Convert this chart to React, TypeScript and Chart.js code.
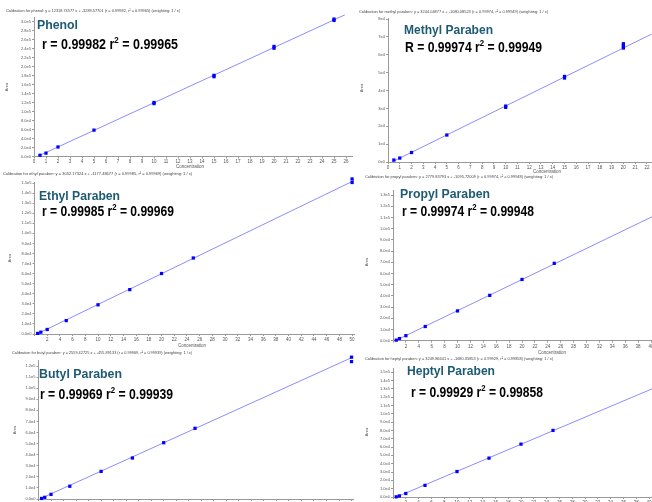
import { useEffect, useRef } from "react";
import { Chart, registerables } from "chart.js";
Chart.register(...registerables);

// ---------- data ----------
const phenolConc = [0.5, 1, 2, 5, 10, 10, 15, 15, 20, 20, 25, 25];
const phenolArea = [2800, 7500, 21200, 58800, 118000, 120500, 178000, 181000, 241500, 245500, 303500, 306500];
const phenolFitConc = [0.27, 25.9];
const phenolFitArea = [0, 315800];

const methylConc = [0.5, 1, 2, 5, 10, 10, 15, 15, 20, 20, 20];
const methylArea = [1100, 2200, 5300, 15100, 30600, 31300, 47000, 47900, 63800, 65000, 66200];
const methylFitConc = [0.33, 22.4];
const methylFitArea = [0, 71600];

const ethylConc = [0.5, 1, 2, 5, 10, 15, 20, 25, 50, 50];
const ethylArea = [600, 1800, 4500, 13300, 29000, 44100, 60100, 75500, 150500, 154000];
const ethylFitConc = [0.39, 50.3];
const ethylFitArea = [0, 152400];

const propylConc = [0.5, 1, 2, 5, 10, 15, 20, 25];
const propylArea = [400, 1800, 4400, 12600, 26500, 40400, 54600, 69000];
const propylFitConc = [0.39, 40.2];
const propylFitArea = [0, 110700];

const butylConc = [0.5, 1, 2, 5, 10, 15, 20, 25, 50, 50];
const butylArea = [500, 1500, 4200, 11500, 24900, 37000, 50800, 63800, 124000, 128000];
const butylFitConc = [0.18, 50.3];
const butylFitArea = [0, 128300];

const heptylConc = [0.5, 1, 2, 5, 10, 15, 20, 25];
const heptylArea = [200, 1300, 4200, 14000, 30600, 46700, 63500, 80000];
const heptylFitConc = [0.52, 40.5];
const heptylFitArea = [0, 130000];

// highest labelled tick on each axis, and the step between labels
const yTickTop = [300000, 80000, 150000, 130000, 120000, 150000];
const yTickStep = [20000, 10000, 10000, 10000, 10000, 10000];
const xTickTop = [26, 22, 50, 40, 50, 40];
const xTickStep = [1, 1, 2, 2, 2, 2];

const headers = [
  "Calibration for phenol: y = 12318.74577 x + -3289.57701 (r = 0.99982, r² = 0.99965) (weighting: 1 / x)",
  "Calibration for methyl paraben: y = 3244.04877 x + -1080.08523 (r = 0.99974, r² = 0.99949) (weighting: 1 / x)",
  "Calibration for ethyl paraben: y = 3052.17324 x + -1177.48677 (r = 0.99985, r² = 0.99969) (weighting: 1 / x)",
  "Calibration for propyl paraben: y = 2779.83793 x + -1095.72009 (r = 0.99974, r² = 0.99948) (weighting: 1 / x)",
  "Calibration for butyl paraben: y = 2559.42725 x + -455.89133 (r = 0.99969, r² = 0.99939) (weighting: 1 / x)",
  "Calibration for heptyl paraben: y = 3249.86641 x + -1680.35853 (r = 0.99929, r² = 0.99858) (weighting: 1 / x)",
];
const titles = ["Phenol", "Methyl Paraben", "Ethyl Paraben", "Propyl Paraben", "Butyl Paraben", "Heptyl Paraben"];
const rLabels = ["r = 0.99982 r", "R = 0.99974 r", "r = 0.99985 r", "r = 0.99974 r", "r = 0.99969 r", "r = 0.99929 r"];
const r2Labels = [" = 0.99965", " = 0.99949", " = 0.99969", " = 0.99948", " = 0.99939", " = 0.99858"];
const xAxisTitle = "Concentration";
const yAxisTitle = "Area";

// ---------- layout / style ----------
const FONT = "'Liberation Sans', Arial, Helvetica, sans-serif";
const TITLE_COLOR = "#1d5a73";
const POINT_COLOR = "#0000ff";
const LINE_COLOR = "#8c8cff";
const AXIS_COLOR = "#9a9a9a";
const TICK_COLOR = "#555";

const zip = (xs: number[], ys: number[]) => xs.map((x, i) => ({ x, y: ys[i] }));

type Layout = {
  box: { left: number; top: number; w: number; h: number };
  area: { l: number; t: number; r: number; b: number };
  xMax: number; hideZero: boolean;
  yMax: number; yDec: number;
  header: { x: number; y: number; w: number };
  title: { x: number; y: number; w: number };
  rline: { x: number; y: number; w: number };
  yt: { x: number; y: number };
  xt: { x: number; y: number };
};

const layouts: Layout[] = [
  { box: { left: 0, top: 0, w: 362, h: 176 }, area: { l: 34, t: 17.5, r: 352, b: 156.5 },
    xMax: 26.5, hideZero: false, yMax: 310000, yDec: 1,
    header: { x: 6, y: 11, w: 174 }, title: { x: 37, y: 25, w: 41 }, rline: { x: 42, y: 45, w: 136 },
    yt: { x: 7, y: 87 }, xt: { x: 190, y: 167 } },
  { box: { left: 355, top: 0, w: 307, h: 178 }, area: { l: 388, t: 18, r: 651.6, b: 162 },
    xMax: 22.4, hideZero: false, yMax: 80600, yDec: 0,
    header: { x: 359, y: 12, w: 189 }, title: { x: 404, y: 30, w: 89 }, rline: { x: 405, y: 48, w: 137 },
    yt: { x: 362, y: 88 }, xt: { x: 547, y: 172 } },
  { box: { left: 0, top: 170, w: 362, h: 180 }, area: { l: 34.5, t: 182, r: 354, b: 334 },
    xMax: 50.3, hideZero: true, yMax: 151000, yDec: 1,
    header: { x: 3, y: 174, w: 189 }, title: { x: 39, y: 196, w: 81 }, rline: { x: 42, y: 212, w: 132 },
    yt: { x: 10, y: 258 }, xt: { x: 192, y: 346 } },
  { box: { left: 355, top: 170, w: 307, h: 190 }, area: { l: 393, t: 190, r: 652.3, b: 340.6 },
    xMax: 40.2, hideZero: true, yMax: 134500, yDec: 1,
    header: { x: 365, y: 177, w: 188 }, title: { x: 400, y: 194, w: 90 }, rline: { x: 402, y: 212, w: 132 },
    yt: { x: 367, y: 262 }, xt: { x: 552, y: 353 } },
  { box: { left: 0, top: 349, w: 362, h: 175 }, area: { l: 38.5, t: 360.5, r: 353.4, b: 499 },
    xMax: 50.3, hideZero: true, yMax: 125000, yDec: 1,
    header: { x: 12, y: 353, w: 180 }, title: { x: 39, y: 374, w: 83 }, rline: { x: 40, y: 395, w: 133 },
    yt: { x: 15, y: 430 }, xt: { x: 195, y: 515 } },
  { box: { left: 355, top: 349, w: 307, h: 175 }, area: { l: 393, t: 368, r: 652.2, b: 497 },
    xMax: 40.5, hideZero: true, yMax: 155000, yDec: 1,
    header: { x: 365, y: 359, w: 188 }, title: { x: 407, y: 371, w: 88 }, rline: { x: 411, y: 393, w: 132 },
    yt: { x: 367, y: 432 }, xt: { x: 552, y: 515 } },
];

const seriesPoints = [
  zip(phenolConc, phenolArea), zip(methylConc, methylArea), zip(ethylConc, ethylArea),
  zip(propylConc, propylArea), zip(butylConc, butylArea), zip(heptylConc, heptylArea),
];
const seriesFit = [
  zip(phenolFitConc, phenolFitArea), zip(methylFitConc, methylFitArea), zip(ethylFitConc, ethylFitArea),
  zip(propylFitConc, propylFitArea), zip(butylFitConc, butylFitArea), zip(heptylFitConc, heptylFitArea),
];

const tickList = (top: number, step: number) => {
  const out: { value: number }[] = [];
  for (let i = 0; i * step <= top + 1e-9; i++) out.push({ value: +(i * step).toFixed(6) });
  return out;
};

type Part = { t: string; font: string; dy?: number };
type TextItem = { parts: Part[]; x: number; y: number; w?: number; color: string; rot?: boolean; center?: boolean };

function textPlugin(items: TextItem[], ox: number, oy: number) {
  return {
    id: "panelText",
    afterDraw(chart: any) {
      const ctx: CanvasRenderingContext2D = chart.ctx;
      for (const it of items) {
        ctx.save();
        ctx.fillStyle = it.color;
        ctx.textBaseline = "middle";
        ctx.textAlign = "left";
        ctx.translate(it.x - ox, it.y - oy);
        if (it.rot) ctx.rotate(-Math.PI / 2);
        const widths = it.parts.map((p) => { ctx.font = p.font; return ctx.measureText(p.t).width; });
        const total = widths.reduce((a, b) => a + b, 0);
        const sx = it.w ? it.w / total : 1;
        if (it.center) ctx.translate((-total * sx) / 2, 0);
        ctx.scale(sx, 1);
        let cx = 0;
        it.parts.forEach((p, i) => {
          ctx.font = p.font;
          ctx.fillText(p.t, cx, p.dy || 0);
          cx += widths[i];
        });
        ctx.restore();
      }
    },
  };
}

function Panel({ idx }: { idx: number }) {
  const ref = useRef<HTMLCanvasElement>(null);
  const L = layouts[idx];
  useEffect(() => {
    const { box, area } = L;
    const items: TextItem[] = [
      { parts: [{ t: headers[idx], font: `4px ${FONT}` }], x: L.header.x, y: L.header.y, w: L.header.w, color: "#444" },
      { parts: [{ t: titles[idx], font: `bold 13px ${FONT}` }], x: L.title.x, y: L.title.y, w: L.title.w, color: TITLE_COLOR },
      { parts: [
          { t: rLabels[idx], font: `bold 14px ${FONT}` },
          { t: "2", font: `bold 9px ${FONT}`, dy: -4.5 },
          { t: r2Labels[idx], font: `bold 14px ${FONT}` },
        ], x: L.rline.x, y: L.rline.y, w: L.rline.w, color: "#000" },
      { parts: [{ t: yAxisTitle, font: `4px ${FONT}` }], x: L.yt.x, y: L.yt.y, color: "#555", rot: true, center: true },
      { parts: [{ t: xAxisTitle, font: `4.5px ${FONT}` }], x: L.xt.x, y: L.xt.y, color: "#555", center: true },
    ];
    const yw = area.l - box.left;
    const xh = box.top + box.h - area.b;
    const chart = new Chart(ref.current!, {
      type: "scatter",
      data: {
        datasets: [
          {
            type: "scatter",
            data: seriesPoints[idx],
            pointStyle: "rect",
            pointRadius: 2.3,
            backgroundColor: POINT_COLOR,
            borderColor: POINT_COLOR,
            borderWidth: 0,
            clip: false,
          } as any,
          {
            type: "line",
            data: seriesFit[idx],
            borderColor: LINE_COLOR,
            borderWidth: 1,
            pointRadius: 0,
            fill: false,
            clip: false,
          } as any,
        ],
      },
      options: {
        animation: false,
        responsive: false,
        events: [],
        layout: { padding: { left: 0, top: area.t - box.top, right: box.left + box.w - area.r, bottom: 0 } },
        plugins: { legend: { display: false }, tooltip: { enabled: false }, title: { display: false } },
        scales: {
          x: {
            type: "linear", min: 0, max: L.xMax,
            afterFit: (s: any) => { s.height = xh; },
            afterBuildTicks: (s: any) => { s.ticks = tickList(xTickTop[idx], xTickStep[idx]); },
            ticks: {
              autoSkip: false, maxRotation: 0, minRotation: 0,
              padding: 1, color: TICK_COLOR, font: { size: 4.5, family: FONT },
              callback: (v: any) => (L.hideZero && Number(v) === 0 ? "" : String(v)),
            },
            grid: { drawOnChartArea: false, tickLength: 2, color: AXIS_COLOR },
            border: { color: AXIS_COLOR },
          },
          y: {
            type: "linear", min: 0, max: L.yMax,
            afterFit: (s: any) => { s.width = yw; },
            afterBuildTicks: (s: any) => { s.ticks = tickList(yTickTop[idx], yTickStep[idx]); },
            ticks: {
              autoSkip: false, padding: 1, color: TICK_COLOR,
              font: { size: 4, family: FONT },
              callback: (v: any) => Number(v).toExponential(L.yDec).replace("+", ""),
            },
            grid: { drawOnChartArea: false, tickLength: 2, color: AXIS_COLOR },
            border: { color: AXIS_COLOR },
          },
        },
      } as any,
      plugins: [textPlugin(items, box.left, box.top)],
    });
    return () => chart.destroy();
  }, []);
  return (
    <canvas
      ref={ref}
      width={L.box.w}
      height={L.box.h}
      style={{ position: "absolute", left: L.box.left, top: L.box.top, width: L.box.w, height: L.box.h }}
    />
  );
}

export default function App() {
  return (
    <div style={{ position: "absolute", left: 0, top: 0, width: 652, height: 502, overflow: "hidden", background: "#fff" }}>
      {layouts.map((_, i) => (
        <Panel key={i} idx={i} />
      ))}
    </div>
  );
}
